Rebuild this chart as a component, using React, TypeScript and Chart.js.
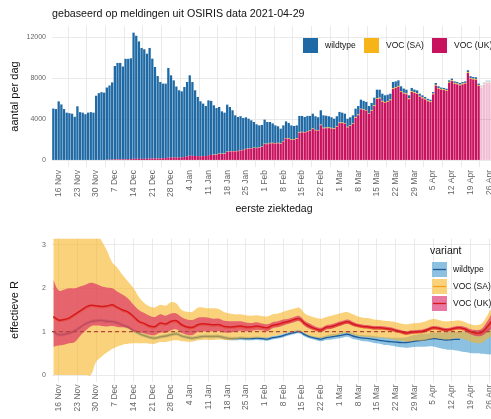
import React, { useEffect, useRef } from 'react';
import { Chart, registerables } from 'chart.js';
Chart.register(...registerables);

const FONT = '"Liberation Sans", Arial, Helvetica, sans-serif';

const chartTitle = 'gebaseerd op meldingen uit OSIRIS data 2021-04-29';

const tickDays = [2, 9, 16, 23, 30, 37, 44, 51, 58, 65, 72, 79, 86, 93, 100, 107, 114, 121, 128, 135, 142, 149, 156, 163];
const tickLabels = ['16 Nov', '23 Nov', '30 Nov', '7 Dec', '14 Dec', '21 Dec', '28 Dec', '4 Jan', '11 Jan', '18 Jan', '25 Jan', '1 Feb', '8 Feb', '15 Feb', '22 Feb', '1 Mar', '8 Mar', '15 Mar', '22 Mar', '29 Mar', '5 Apr', '12 Apr', '19 Apr', '26 Apr'];

const yTicksTop = [0, 4000, 8000, 12000];
const yTicksBottom = [0, 1, 2, 3];

// daily counts, day 0 = 14 Nov 2020
const wildtype = [
  5050, 5000, 5750, 5450, 5000, 4650, 4600, 4550, 4250, 5270, 4700, 4650, 4500, 4650, 4700, 4650, 6300, 6550, 6650, 6600,
  7040, 7240, 7530, 9120, 9400, 9400, 9060, 9800, 9790, 9840,
  12300, 12000, 11450, 10820, 10680, 10250, 10780, 9740, 8920, 8040,
  7450, 7280, 7260, 8730, 8020, 7530, 6930, 6560, 6440, 6820,
  7260, 7840, 7200, 6410, 5770, 5360, 5120, 4880, 5350, 5270,
  4800, 4510, 4550, 4130, 3970, 4590, 4310, 3970, 3500, 3310,
  3300, 3110, 3080, 2890, 2700, 2510, 2290, 2150, 2110, 2350,
  2120, 2040, 1890, 1720, 1610, 1430, 1520, 1620, 1500, 1350,
  1290, 1280, 1600, 1550, 1470, 1470, 1420, 1450, 1330, 1250,
  1400, 1210, 1160, 1100, 1030, 950, 970, 1030, 960, 920,
  790, 780, 770, 850, 840, 890, 840, 790, 710, 720,
  740, 820, 780, 700, 650, 620, 570, 610, 570, 540,
  460, 410, 370, 300, 310, 260, 260, 210, 210, 170,
  160, 160, 150, 180, 170, 130, 130, 130, 150, 160,
  150, 150, 150, 150, 150, 180, 170, 160, 160, 140,
  140, 150, 150, 150, 150, 140
];
const vocSA = [
  0, 0, 0, 0, 0, 0, 0, 0, 0, 0, 0, 0, 0, 0, 0, 0, 0, 0, 0, 0,
  0, 0, 0, 0, 0, 0, 0, 0, 0, 0, 0, 0, 0, 0, 0, 0, 0, 0, 0, 0,
  0, 0, 0, 0, 0, 0, 0, 0, 0, 0, 0, 0, 0, 0, 0, 0, 0, 0, 0, 0,
  30, 30, 30, 30, 30, 30, 30, 30, 30, 30, 30, 30, 30, 30, 30, 30, 30, 30, 30, 30,
  50, 50, 50, 50, 50, 50, 50, 50, 50, 50, 50, 50, 50, 50, 50, 50, 50, 50, 50, 50,
  60, 60, 60, 60, 60, 60, 60, 60, 60, 60, 60, 60, 60, 60, 60, 60, 60, 60, 60, 60,
  80, 80, 80, 80, 80, 80, 80, 80, 80, 80, 80, 80, 80, 80, 80, 80, 80, 80, 80, 80,
  80, 80, 80, 80, 80, 80, 80, 80, 80, 80, 80, 80, 80, 80, 80, 80, 80, 80, 80, 80,
  80, 80, 80, 80, 80, 80
];
const vocUK = [
  0, 0, 0, 0, 0, 0, 0, 0, 0, 0, 0, 0, 0, 0, 0, 0, 0, 0, 0, 0,
  60, 60, 70, 80, 100, 100, 90, 100, 110, 110,
  150, 150, 150, 140, 150, 150, 180, 180, 180, 180,
  190, 200, 220, 280, 270, 270, 270, 270, 290, 330,
  380, 450, 440, 420, 410, 400, 410, 420, 500, 530,
  540, 560, 620, 620, 650, 810, 860, 880, 860, 890,
  970, 990, 1090, 1140, 1170, 1200, 1190, 1230, 1310, 1590,
  1570, 1650, 1660, 1640, 1660, 1610, 1840, 2130, 2100, 2010,
  2010, 2080, 2680, 2730, 2710, 2810, 2860, 3050, 2920, 2900,
  3420, 3120, 3130, 3140, 3110, 3050, 3270, 3630, 3630, 3570,
  3210, 3360, 3560, 4130, 4400, 4970, 4900, 4850, 4530, 4820,
  5290, 5990, 6030, 5720, 5610, 5700, 5850, 6950, 7050, 7180,
  6680, 6510, 6440, 5960, 6670, 6560, 6480, 6210, 6050, 5930,
  5760, 5680, 6430, 7280, 6970, 6890, 6850, 6780, 7570, 7730,
  7470, 7410, 7310, 7410, 7470, 8520, 7950, 7890, 7860, 7260,
  7080, 7370, 7570, 7570, 7370, 7180
];
const firstIncompleteDay = 160;

// effective R, every second day from day 0
const rDays = [
  0, 2, 4, 6, 8, 10, 12, 14, 16, 18, 20, 22, 24, 26, 28, 30, 32, 34, 36, 38,
  40, 42, 44, 46, 48, 50, 52, 54, 56, 58, 60, 62, 64, 66, 68, 70, 72, 74, 76, 78,
  80, 82, 84, 86, 88, 90, 92, 94, 96, 98, 100, 102, 104, 106, 108, 110, 112, 114, 116, 118,
  120, 122, 124, 126, 128, 130, 132, 134, 136, 138, 140, 142, 144, 146, 148, 150, 152, 154, 156, 158,
  160, 162, 164
];
const rWildtype = [
  1.00, 0.93, 0.94, 0.97, 1.02, 1.10, 1.18, 1.23, 1.25, 1.26,
  1.24, 1.23, 1.20, 1.15, 1.10, 1.02, 0.96, 0.91, 0.87, 0.85,
  0.88, 0.90, 0.93, 0.95, 0.90, 0.87, 0.85, 0.87, 0.89, 0.89,
  0.89, 0.89, 0.86, 0.84, 0.84, 0.85, 0.84, 0.84, 0.85, 0.84,
  0.83, 0.86, 0.88, 0.91, 0.95, 0.98, 1.00, 0.93, 0.88, 0.85,
  0.83, 0.86, 0.88, 0.90, 0.92, 0.94, 0.90, 0.87, 0.85, 0.84,
  0.82, 0.80, 0.78, 0.77, 0.76, 0.75, 0.75, 0.77, 0.79, 0.80,
  0.82, 0.84, 0.83, 0.81, 0.81, 0.82, 0.82, null, null, null,
  null, null, null
];
const rWildtypeHi = [
  1.04, 0.97, 0.98, 1.01, 1.06, 1.14, 1.22, 1.27, 1.29, 1.30,
  1.28, 1.27, 1.24, 1.19, 1.14, 1.06, 1.00, 0.95, 0.91, 0.89,
  0.92, 0.94, 0.97, 0.99, 0.94, 0.91, 0.89, 0.91, 0.93, 0.93,
  0.93, 0.93, 0.90, 0.88, 0.88, 0.89, 0.88, 0.88, 0.89, 0.88,
  0.87, 0.90, 0.92, 0.95, 0.99, 1.02, 1.04, 0.97, 0.92, 0.89,
  0.88, 0.91, 0.94, 0.96, 0.98, 1.00, 0.97, 0.93, 0.92, 0.91,
  0.90, 0.88, 0.87, 0.86, 0.86, 0.86, 0.87, 0.91, 0.93, 0.95,
  0.96, 0.98, 0.98, 0.98, 0.99, 0.99, 1.00, 1.00, 1.00, 1.01,
  1.03, 1.07, 1.12
];
const rWildtypeLo = [
  0.96, 0.89, 0.90, 0.93, 0.98, 1.06, 1.14, 1.19, 1.21, 1.22,
  1.20, 1.19, 1.16, 1.11, 1.06, 0.98, 0.92, 0.87, 0.83, 0.81,
  0.84, 0.86, 0.89, 0.91, 0.86, 0.83, 0.81, 0.83, 0.85, 0.85,
  0.85, 0.85, 0.82, 0.80, 0.80, 0.81, 0.80, 0.80, 0.81, 0.80,
  0.79, 0.82, 0.84, 0.87, 0.91, 0.94, 0.96, 0.89, 0.84, 0.81,
  0.78, 0.81, 0.82, 0.84, 0.86, 0.88, 0.83, 0.81, 0.78, 0.77,
  0.74, 0.72, 0.69, 0.68, 0.66, 0.64, 0.63, 0.64, 0.65, 0.65,
  0.66, 0.66, 0.63, 0.60, 0.58, 0.57, 0.55, 0.53, 0.51, 0.50,
  0.49, 0.48, 0.47
];
const rSA = [
  1.32, 1.24, 1.25, 1.29, 1.37, 1.45, 1.53, 1.58, 1.57, 1.55,
  1.56, 1.59, 1.53, 1.47, 1.42, 1.32, 1.21, 1.16, 1.10, 1.09,
  1.17, 1.15, 1.21, 1.22, 1.13, 1.08, 1.07, 1.13, 1.15, 1.14,
  1.13, 1.13, 1.09, 1.08, 1.09, 1.10, 1.08, 1.08, 1.10, 1.08,
  1.06, 1.12, 1.14, 1.18, 1.21, 1.25, 1.27, 1.16, 1.09, 1.04,
  1.01, 1.07, 1.09, 1.13, 1.17, 1.20, 1.15, 1.11, 1.09, 1.08,
  1.06, 1.06, 1.05, 1.03, 1.00, 0.97, 0.94, 0.96, 0.97, 0.98,
  1.02, 1.06, 1.05, 1.02, 1.02, 1.05, 1.06, 1.03, 0.97, 0.94,
  0.95, 1.07, 1.22
];
const rSAHi = [
  3.30, 3.30, 3.30, 3.30, 3.30, 3.30, 3.30, 3.30, 3.30, 3.10,
  2.88, 2.60, 2.47, 2.30, 2.15, 2.00, 1.80, 1.66, 1.58, 1.56,
  1.62, 1.60, 1.68, 1.65, 1.50, 1.46, 1.46, 1.55, 1.56, 1.54,
  1.54, 1.52, 1.45, 1.42, 1.40, 1.40, 1.38, 1.37, 1.38, 1.36,
  1.35, 1.40, 1.42, 1.46, 1.50, 1.53, 1.55, 1.42, 1.36, 1.32,
  1.30, 1.34, 1.37, 1.40, 1.43, 1.45, 1.40, 1.35, 1.32, 1.31,
  1.28, 1.27, 1.25, 1.24, 1.22, 1.19, 1.17, 1.19, 1.20, 1.22,
  1.26, 1.29, 1.27, 1.24, 1.24, 1.25, 1.26, 1.22, 1.17, 1.15,
  1.18, 1.35, 1.55
];
const rSALo = [
  0.00, 0.00, 0.00, 0.00, 0.00, 0.00, 0.00, 0.00, 0.30, 0.42,
  0.52, 0.60, 0.66, 0.70, 0.72, 0.73, 0.73, 0.73, 0.72, 0.72,
  0.76, 0.76, 0.79, 0.80, 0.78, 0.77, 0.77, 0.80, 0.81, 0.81,
  0.81, 0.82, 0.81, 0.81, 0.82, 0.84, 0.84, 0.85, 0.86, 0.86,
  0.86, 0.90, 0.92, 0.95, 0.98, 1.00, 1.02, 0.96, 0.90, 0.87,
  0.85, 0.88, 0.90, 0.92, 0.95, 0.97, 0.93, 0.90, 0.88, 0.87,
  0.86, 0.86, 0.85, 0.83, 0.81, 0.79, 0.77, 0.78, 0.79, 0.79,
  0.82, 0.85, 0.84, 0.82, 0.82, 0.84, 0.85, 0.82, 0.77, 0.74,
  0.74, 0.82, 0.92
];
const rUK = [
  1.35, 1.27, 1.28, 1.32, 1.40, 1.48, 1.56, 1.61, 1.60, 1.58,
  1.59, 1.62, 1.56, 1.50, 1.45, 1.35, 1.24, 1.19, 1.13, 1.12,
  1.20, 1.18, 1.24, 1.25, 1.16, 1.11, 1.10, 1.16, 1.18, 1.17,
  1.16, 1.16, 1.12, 1.11, 1.12, 1.13, 1.11, 1.11, 1.13, 1.11,
  1.09, 1.15, 1.17, 1.21, 1.24, 1.28, 1.30, 1.19, 1.12, 1.07,
  1.04, 1.10, 1.12, 1.16, 1.20, 1.23, 1.18, 1.14, 1.12, 1.11,
  1.09, 1.09, 1.08, 1.06, 1.03, 1.00, 0.97, 0.99, 1.00, 1.01,
  1.05, 1.09, 1.08, 1.05, 1.05, 1.08, 1.09, 1.06, 1.00, 0.97,
  0.98, 1.10, 1.25
];
const rUKHi = [
  2.19, 1.95, 1.97, 2.00, 2.00, 2.04, 2.08, 2.13, 2.10, 2.05,
  2.02, 2.00, 1.92, 1.85, 1.76, 1.62, 1.50, 1.43, 1.37, 1.34,
  1.40, 1.37, 1.42, 1.42, 1.33, 1.28, 1.27, 1.32, 1.33, 1.32,
  1.30, 1.30, 1.25, 1.24, 1.24, 1.24, 1.21, 1.20, 1.22, 1.19,
  1.17, 1.22, 1.24, 1.28, 1.30, 1.34, 1.36, 1.25, 1.18, 1.12,
  1.09, 1.15, 1.17, 1.21, 1.25, 1.28, 1.23, 1.18, 1.16, 1.15,
  1.13, 1.13, 1.12, 1.10, 1.07, 1.04, 1.01, 1.03, 1.04, 1.05,
  1.09, 1.13, 1.12, 1.09, 1.09, 1.12, 1.13, 1.11, 1.06, 1.04,
  1.06, 1.22, 1.42
];
const rUKLo = [
  0.65, 0.68, 0.70, 0.73, 0.76, 0.90, 1.02, 1.12, 1.14, 1.13,
  1.12, 1.13, 1.11, 1.10, 1.08, 1.01, 0.98, 0.96, 0.93, 0.92,
  0.98, 0.97, 1.03, 1.05, 0.97, 0.93, 0.92, 0.99, 1.01, 1.01,
  1.01, 1.01, 0.98, 0.98, 1.00, 1.02, 1.01, 1.02, 1.04, 1.03,
  1.01, 1.08, 1.10, 1.14, 1.18, 1.22, 1.24, 1.13, 1.06, 1.02,
  0.99, 1.05, 1.07, 1.11, 1.15, 1.18, 1.13, 1.10, 1.08, 1.07,
  1.05, 1.05, 1.04, 1.02, 0.99, 0.96, 0.93, 0.95, 0.96, 0.97,
  1.01, 1.05, 1.04, 1.01, 1.01, 1.04, 1.05, 1.01, 0.94, 0.90,
  0.90, 0.98, 1.08
];
const referenceR = 1;

const COL = {
  barWild: '#1f6aa5', barSA: '#f7b419', barUK: '#c8125e',
  barWildF: 'rgba(31,106,165,0.28)', barSAF: 'rgba(247,180,25,0.28)', barUKF: 'rgba(200,18,94,0.28)',
  bandWild: 'rgba(78,160,210,0.65)', bandSA: 'rgba(248,180,37,0.6)', bandUK: 'rgba(216,28,100,0.6)',
  lineWild: '#1f5a96', lineSA: '#f2a11f', lineUK: '#d7191c',
  grid: '#e4e4e4', tick: '#666666',
};

const xDomain = { min: -0.5, max: 165.5 };

function makeX(axisHeight: number, title: string | null) {
  return {
    type: 'linear' as const,
    min: xDomain.min,
    max: xDomain.max,
    stacked: true,
    offset: false,
    afterBuildTicks: (s: any) => { s.ticks = tickDays.map((v) => ({ value: v })); },
    afterFit: (s: any) => { s.height = axisHeight; },
    ticks: {
      autoSkip: false, maxRotation: 90, minRotation: 90, padding: 3,
      color: COL.tick, font: { family: FONT, size: 8.5 },
      callback: (_v: any, i: number) => tickLabels[i],
    },
    grid: { color: COL.grid, lineWidth: 0.8, drawTicks: false },
    border: { display: false },
    title: title
      ? { display: true, text: title, color: '#111', font: { family: FONT, size: 10.5 }, padding: { top: 0, bottom: 3 } }
      : { display: false },
  };
}

function makeY(min: number, max: number, ticks: number[], title: string, stacked: boolean) {
  return {
    min, max, stacked,
    afterBuildTicks: (s: any) => { s.ticks = ticks.map((v) => ({ value: v })); },
    afterFit: (s: any) => { s.width = 52; },
    ticks: { padding: 6, color: COL.tick, font: { family: FONT, size: 7 }, callback: (v: any) => String(v) },
    grid: { color: COL.grid, lineWidth: 0.8, drawTicks: false },
    border: { display: false },
    title: { display: true, text: title, color: '#111', font: { family: FONT, size: 11 }, padding: { top: 8, bottom: 0 } },
  };
}

const topOverlay = {
  id: 'topOverlay',
  afterDraw(chart: any) {
    const ctx = chart.ctx;
    ctx.save();
    ctx.textBaseline = 'middle';
    ctx.textAlign = 'left';
    ctx.fillStyle = '#111';
    ctx.font = `10.7px ${FONT}`;
    ctx.fillText(chartTitle, 52, 14);
    const items = [
      { x: 303, color: COL.barWild, label: 'wildtype' },
      { x: 364, color: COL.barSA, label: 'VOC (SA)' },
      { x: 432, color: COL.barUK, label: 'VOC (UK)' },
    ];
    ctx.font = `8.5px ${FONT}`;
    for (const it of items) {
      ctx.fillStyle = it.color;
      ctx.fillRect(it.x, 38, 15, 15);
      ctx.fillStyle = '#111';
      ctx.fillText(it.label, it.x + 22, 45.5);
    }
    ctx.restore();
  },
};

const bottomOverlay = {
  id: 'bottomOverlay',
  afterDraw(chart: any) {
    const ctx = chart.ctx;
    ctx.save();
    ctx.textBaseline = 'middle';
    ctx.textAlign = 'left';
    ctx.fillStyle = '#111';
    ctx.font = `10.5px ${FONT}`;
    ctx.fillText('variant', 430, 33);
    const items = [
      { y: 44, band: COL.bandWild, line: COL.lineWild, label: 'wildtype' },
      { y: 61, band: COL.bandSA, line: COL.lineSA, label: 'VOC (SA)' },
      { y: 78, band: COL.bandUK, line: COL.lineUK, label: 'VOC (UK)' },
    ];
    ctx.font = `8.5px ${FONT}`;
    for (const it of items) {
      ctx.fillStyle = '#fff';
      ctx.fillRect(432, it.y, 15, 15);
      ctx.fillStyle = it.band;
      ctx.fillRect(432, it.y, 15, 15);
      ctx.strokeStyle = it.line;
      ctx.lineWidth = 1.3;
      ctx.beginPath();
      ctx.moveTo(433, it.y + 7.5);
      ctx.lineTo(446, it.y + 7.5);
      ctx.stroke();
      ctx.fillStyle = '#111';
      ctx.fillText(it.label, 453, it.y + 8);
    }
    ctx.restore();
  },
};

function pts(arr: (number | null)[]) {
  return rDays.map((d, i) => ({ x: d, y: arr[i] }));
}

export default function App() {
  const topRef = useRef<HTMLCanvasElement>(null);
  const botRef = useRef<HTMLCanvasElement>(null);

  useEffect(() => {
    const fade = (solid: string, faded: string) => (_: any, i: number) => (i >= firstIncompleteDay ? faded : solid);
    const barDs = (label: string, arr: number[], solid: string, faded: string) => ({
      label,
      data: arr.map((v, i) => ({ x: i, y: v })),
      backgroundColor: arr.map(fade(solid, faded)),
      borderWidth: 0,
      barPercentage: 0.86,
      categoryPercentage: 1,
    });

    const top = new Chart(topRef.current as HTMLCanvasElement, {
      type: 'bar',
      data: {
        datasets: [
          barDs('VOC (UK)', vocUK, COL.barUK, COL.barUKF),
          barDs('VOC (SA)', vocSA, COL.barSA, COL.barSAF),
          barDs('wildtype', wildtype, COL.barWild, COL.barWildF),
        ],
      },
      options: {
        animation: false,
        responsive: false,
        layout: { padding: { top: 26, left: 0, right: 9, bottom: 0 } },
        plugins: { legend: { display: false }, tooltip: { enabled: false } },
        scales: {
          x: makeX(51, 'eerste ziektedag') as any,
          y: makeY(-650, 13100, yTicksTop, 'aantal per dag', true) as any,
        },
      },
      plugins: [topOverlay],
    });

    const band = (arr: (number | null)[], color: string, fillTo: number | false, order: number) => ({
      data: pts(arr),
      borderWidth: 0,
      borderColor: 'transparent',
      backgroundColor: color,
      pointRadius: 0,
      tension: 0.4,
      fill: fillTo === false ? false : fillTo,
      order,
    });
    const line = (arr: (number | null)[], color: string, width: number, order: number) => ({
      data: pts(arr),
      borderWidth: width,
      borderColor: color,
      backgroundColor: color,
      pointRadius: 0,
      tension: 0.4,
      fill: false,
      order,
    });

    const bottom = new Chart(botRef.current as HTMLCanvasElement, {
      type: 'line',
      data: {
        datasets: [
          band(rWildtypeHi, COL.bandWild, 1, 20),
          band(rWildtypeLo, COL.bandWild, false, 19),
          line(rWildtype, COL.lineWild, 1.3, 18),
          band(rSAHi, COL.bandSA, 4, 17),
          band(rSALo, COL.bandSA, false, 16),
          line(rSA, COL.lineSA, 1.3, 15),
          band(rUKHi, COL.bandUK, 7, 14),
          band(rUKLo, COL.bandUK, false, 13),
          {
            data: [{ x: xDomain.min, y: referenceR }, { x: xDomain.max, y: referenceR }],
            borderWidth: 1.2,
            borderColor: '#b0473a',
            borderDash: [4, 3],
            pointRadius: 0,
            fill: false,
            order: 12,
          },
          line(rUK, COL.lineUK, 1.5, 11),
        ] as any,
      },
      options: {
        animation: false,
        responsive: false,
        layout: { padding: { top: 20.5, left: 0, right: 9, bottom: 0 } },
        plugins: { legend: { display: false }, tooltip: { enabled: false } },
        scales: {
          x: makeX(37.5, null) as any,
          y: makeY(-0.15, 3.15, yTicksBottom, 'effectieve R', false) as any,
        },
      },
      plugins: [bottomOverlay],
    });

    return () => {
      top.destroy();
      bottom.destroy();
    };
  }, []);

  return (
    <div style={{ position: 'absolute', left: 0, top: 0, width: 491, height: 419, overflow: 'hidden', background: '#fff' }}>
      <canvas ref={topRef} width={505} height={218} style={{ position: 'absolute', left: 0, top: 0, width: 505, height: 218 }} />
      <canvas ref={botRef} width={505} height={201} style={{ position: 'absolute', left: 0, top: 218, width: 505, height: 201 }} />
    </div>
  );
}
